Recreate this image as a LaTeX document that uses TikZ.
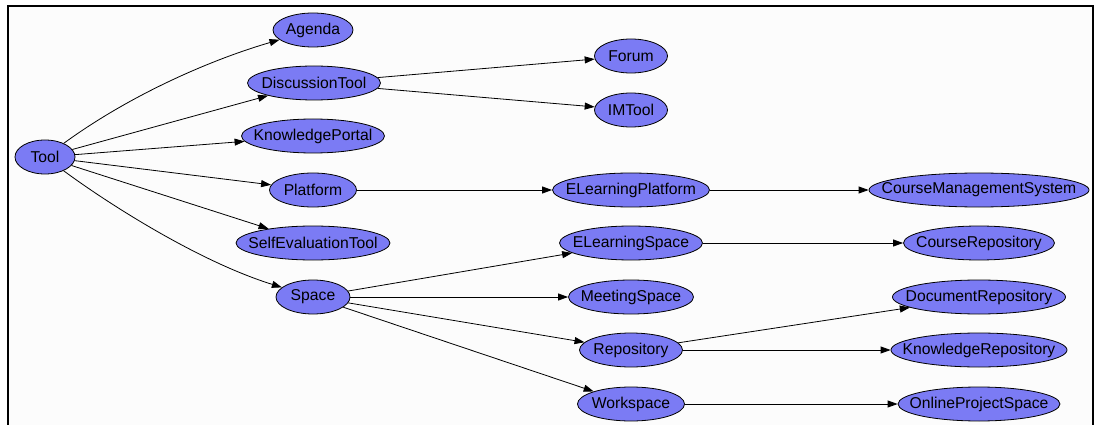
\documentclass[tikz,border=0pt]{standalone}
\usepackage{fontspec}
\setmainfont{Liberation Sans}
\usetikzlibrary{arrows.meta,shapes.geometric}
\definecolor{nodefill}{HTML}{7B7BF4}
\definecolor{bgfill}{HTML}{FCFCFC}
\begin{document}
\begin{tikzpicture}[x=1pt,y=-1pt,
  nd/.style={ellipse, draw=black, line width=0.8pt, fill=nodefill, inner xsep=-60pt, inner ysep=-20pt,
    minimum height=34pt, font=\fontsize{15.7}{17}\selectfont},
  ed/.style={-{Triangle[length=10pt,width=7pt]}, line width=0.8pt}]
\useasboundingbox (0,0) rectangle (1098,425);
\fill[white] (0,0) rectangle (1098,425);
\fill[bgfill] (8,6) rectangle (1093,425);
\draw[line width=2pt] (8,425) -- (8,6) -- (1093,6) -- (1093,425);

\node[nd, minimum width=60pt]  (tool) at (45,157) {Tool};
\node[nd, minimum width=80pt]  (agenda) at (313,30) {Agenda};
\node[nd, minimum width=133pt] (disc) at (314,83) {DiscussionTool};
\node[nd, minimum width=143pt] (kportal) at (313,136) {KnowledgePortal};
\node[nd, minimum width=87pt]  (platform) at (313,190) {Platform};
\node[nd, minimum width=154pt] (selfeval) at (313,243) {SelfEvaluationTool};
\node[nd, minimum width=74pt]  (space) at (313,297) {Space};

\node[nd, minimum width=73pt]  (forum) at (631,56) {Forum};
\node[nd, minimum width=73pt]  (imtool) at (631,110) {IMTool};
\node[nd, minimum width=157pt] (elplat) at (631,190) {ELearningPlatform};
\node[nd, minimum width=143pt] (elspace) at (631,243) {ELearningSpace};
\node[nd, minimum width=125pt] (meeting) at (631,297) {MeetingSpace};
\node[nd, minimum width=103pt] (repo) at (631,350) {Repository};
\node[nd, minimum width=107pt] (work) at (631,404) {Workspace};

\node[nd, minimum width=220pt] (cms) at (979,190) {CourseManagementSystem};
\node[nd, minimum width=151pt] (crepo) at (979,243) {CourseRepository};
\node[nd, minimum width=173pt] (drepo) at (979,297) {DocumentRepository};
\node[nd, minimum width=176pt] (krepo) at (979,350) {KnowledgeRepository};
\node[nd, minimum width=162pt] (ops) at (979,404) {OnlineProjectSpace};

\draw[ed] (tool) .. controls (130,95) and (210,60) .. (agenda);
\draw[ed] (tool) -- (disc);
\draw[ed] (tool) -- (kportal);
\draw[ed] (tool) -- (platform);
\draw[ed] (tool) -- (selfeval);
\draw[ed] (tool) .. controls (110,205) and (200,262) .. (space);

\draw[ed] (disc) -- (forum);
\draw[ed] (disc) -- (imtool);
\draw[ed] (platform) -- (elplat);
\draw[ed] (elplat) -- (cms);
\draw[ed] (space) -- (elspace);
\draw[ed] (space) -- (meeting);
\draw[ed] (space) -- (repo);
\draw[ed] (space) -- (work);
\draw[ed] (elspace) -- (crepo);
\draw[ed] (repo) -- (drepo);
\draw[ed] (repo) -- (krepo);
\draw[ed] (work) -- (ops);
\end{tikzpicture}
\end{document}
